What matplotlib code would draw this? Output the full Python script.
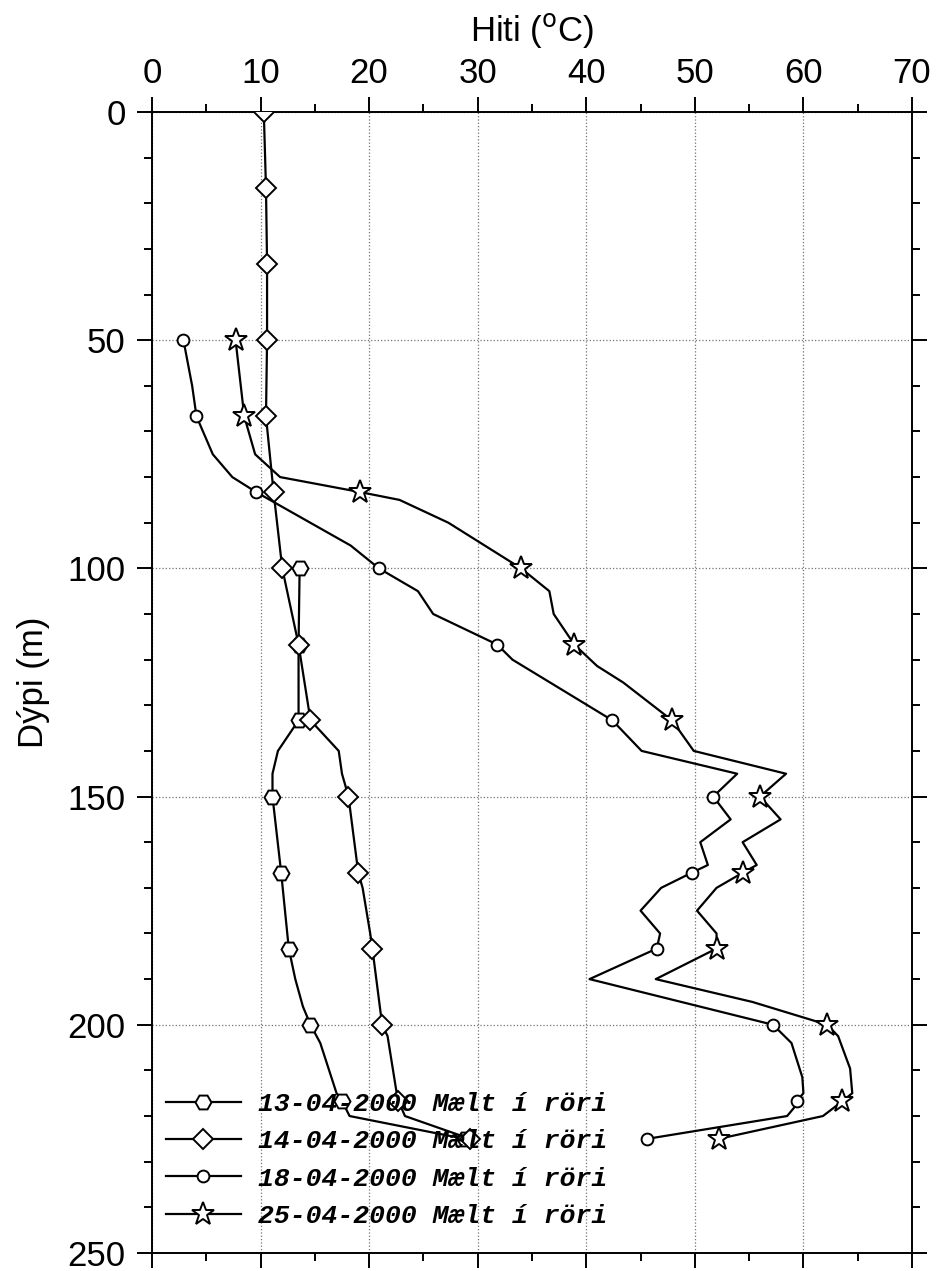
import numpy as np
import matplotlib
matplotlib.use("Agg")
import matplotlib.pyplot as plt
from matplotlib.ticker import MultipleLocator

# depth (m) where the symbols sit on every curve
mark_depths = [0, 16.7, 33.3, 50, 66.7, 83.3, 100, 116.7, 133.3, 150,
               166.7, 183.3, 200, 216.7, 225]

labels = ['13-04-2000 Mælt í röri', '14-04-2000 Mælt í röri',
          '18-04-2000 Mælt í röri', '25-04-2000 Mælt í röri']

# 13-04-2000
d1304 = [100, 116.7, 133.3, 140, 145, 150, 166.7, 183.3, 190, 196, 200,
         204, 215, 216.7, 220, 225]
t1304 = [13.6, 13.5, 13.5, 11.6, 11.1, 11.1, 11.9, 12.6, 13.2, 13.9, 14.6,
         15.5, 17.0, 17.5, 18.2, 28.8]

# 14-04-2000
d1404 = [0, 16.7, 33.3, 50, 66.7, 83.3, 100, 116.7, 133.3, 140, 145, 150,
         166.7, 170, 180, 183.3, 200, 202.5, 214.4, 216.7, 220, 225]
t1404 = [10.3, 10.5, 10.6, 10.6, 10.5, 11.2, 12.0, 13.5, 14.6, 17.2, 17.5, 18.1,
         19.0, 19.4, 20.1, 20.3, 21.2, 21.7, 22.5, 22.7, 23.3, 29.3]

# 18-04-2000
d1804 = [50, 60, 66.7, 75, 80, 83.3, 95, 100, 105, 110, 116.7, 120, 133.3,
         140, 145, 150, 155, 160, 165, 166.7, 170, 175, 180, 183.3, 190, 200,
         204, 211.5, 215, 216.7, 218, 220, 225]
t1804 = [2.9, 3.7, 4.1, 5.6, 7.4, 9.6, 18.3, 20.9, 24.5, 25.9, 31.8, 33.2, 42.4,
         45.1, 53.9, 51.7, 53.3, 50.5, 51.2, 49.7, 46.9, 45.0, 46.8, 46.5, 40.3, 57.2,
         58.9, 59.9, 60.0, 59.4, 59.2, 58.5, 45.6]

# 25-04-2000
d2504 = [50, 66.7, 75, 80, 83.3, 85, 90, 100, 105, 110, 116.7, 121.4, 125,
         133.3, 140, 145, 150, 155, 160, 165, 166.7, 170, 175, 180, 183.3, 190,
         195, 200, 202.5, 209.6, 215, 216.7, 218, 220, 225]
t2504 = [7.7, 8.5, 9.5, 11.8, 19.2, 22.8, 27.3, 34.0, 36.6, 37.0, 38.9, 41.0, 43.4,
         47.9, 49.9, 58.4, 56.0, 57.9, 54.4, 55.7, 54.4, 52.0, 50.2, 52.0, 52.0, 46.4,
         55.3, 62.2, 63.2, 64.3, 64.5, 63.6, 62.9, 61.8, 52.2]

series = [(d1304, t1304, 'H', 11.5), (d1404, t1404, 'D', 10),
          (d1804, t1804, 'o', 8.5), (d2504, t2504, '*', 17)]

fig = plt.figure(figsize=(9.37, 12.71), dpi=100)
ax = fig.add_axes([0.1622, 0.0142, 0.8111, 0.8977])

for (d, t, m, ms), lab in zip(series, labels):
    d = np.array(d)
    marks = list(np.where(np.isin(d, mark_depths))[0])
    ax.plot(t, d, color='black', lw=1.6, marker=m, markersize=ms,
            markerfacecolor='white', markeredgecolor='black', markeredgewidth=1.4,
            markevery=marks, label=lab, zorder=3)

ax.set_xlim(0, 70)
ax.set_ylim(250, 0)
ax.xaxis.set_major_locator(MultipleLocator(10))
ax.xaxis.set_minor_locator(MultipleLocator(5))
ax.yaxis.set_major_locator(MultipleLocator(50))
ax.yaxis.set_minor_locator(MultipleLocator(10))
ax.tick_params(which='both', direction='out', top=True, bottom=True, left=True, right=True,
               labeltop=True, labelbottom=False, labelleft=True, labelright=False, width=1.4)
ax.tick_params(which='major', length=11, labelsize=25)
ax.tick_params(which='minor', length=6)
ax.tick_params(axis='x', which='major', pad=5)
ax.tick_params(axis='y', which='major', pad=8)
for lbl in ax.get_xticklabels() + ax.get_yticklabels():
    lbl.set_family(['Liberation Sans Narrow', 'Liberation Sans'])
for s in ax.spines.values():
    s.set_linewidth(1.4)

ax.grid(True, which='major', linestyle=':', color='0.45', linewidth=0.9)

ax.xaxis.set_label_position('top')
ax.set_xlabel('Hiti ($^{\\rm o}$C)', fontsize=25, family='Liberation Sans')
ax.set_ylabel('Dýpi (m)', fontsize=25, family='Liberation Sans')
ax.xaxis.set_label_coords(0.5, 1.062)
ax.yaxis.set_label_coords(-0.134, 0.5)

leg = ax.legend(loc='lower left', bbox_to_anchor=(0.018, 0.022), frameon=False,
                borderpad=0, borderaxespad=0, handlelength=2.85, handletextpad=0.65,
                labelspacing=0.5,
                prop={'family': 'Liberation Mono', 'weight': 'bold', 'style': 'italic',
                      'size': 19})

fig.savefig('out.png', dpi=100)
